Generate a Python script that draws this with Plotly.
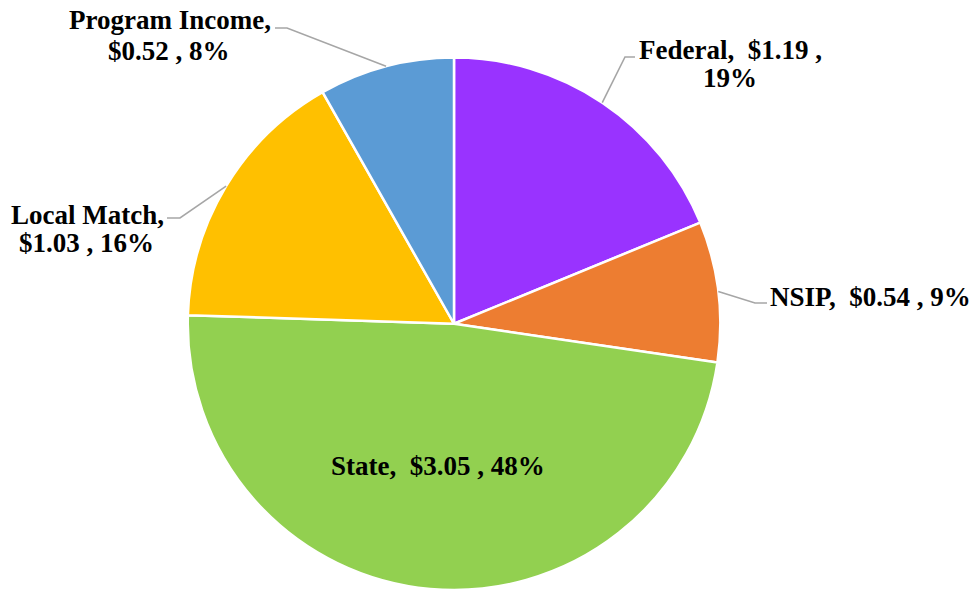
import math
import plotly.graph_objects as go

# ---- data ----
categories = ["Federal", "NSIP", "State", "Local Match", "Program Income"]
amounts = [1.19, 0.54, 3.05, 1.03, 0.52]
percents = [19, 9, 48, 16, 8]
colors = ["#9933FF", "#ED7D31", "#92D050", "#FFC000", "#5B9BD5"]

NB = "\u00a0"
# label text lines (as shown on the chart)
label_lines = {
    "Federal": ["Federal," + NB * 2 + "$1.19" + NB + ",", "19%"],
    "NSIP": ["NSIP," + NB * 2 + "$0.54" + NB + "," + NB + "9%"],
    "State": ["State," + NB * 2 + "$3.05" + NB + "," + NB + "48%"],
    "Local Match": ["Local Match,", "$1.03" + NB + "," + NB + "16%"],
    "Program Income": ["Program Income,", "$0.52" + NB + "," + NB + "8%"],
}

# ---- layout / style (pixels) ----
W, H = 975, 590
CX, CY, R = 454.0, 323.75, 266.25
FONT = "Liberation Serif, Times New Roman, serif"
FSIZE = 27

# label line centres (x, y of each line) in pixels
label_pos = {
    "Federal": [(730, 50), (730, 78)],
    "NSIP": [(870, 297)],
    "State": [(438, 466)],
    "Local Match": [(87, 215.5), (86, 243)],
    "Program Income": [(170, 20.5), (169, 50.5)],
}
leader_pts = {
    "Federal": [(625, 57), (635, 57)],
    "NSIP": [(755, 303), (767, 303)],
    "State": None,
    "Local Match": [(180, 218), (167, 218)],
    "Program Income": [(287, 28), (275, 28)],
}


def px(x):
    return x / W


def py(y):
    return 1 - y / H


fig = go.Figure(
    go.Pie(
        labels=categories,
        values=amounts,
        sort=False,
        direction="clockwise",
        rotation=0,
        marker=dict(colors=colors, line=dict(color="white", width=2.5)),
        textinfo="none",
        showlegend=False,
        domain=dict(x=[px(CX - R), px(CX + R)], y=[0, py(CY - R)]),
    )
)

total = sum(amounts)
cum = 0.0
shapes = []
annotations = []
for cat, val in zip(categories, amounts):
    mid = (cum + val / 2) / total * 2 * math.pi
    cum += val
    for line, (lx, ly) in zip(label_lines[cat], label_pos[cat]):
        annotations.append(
            dict(
                x=px(lx), y=py(ly), xref="paper", yref="paper",
                text="<b>" + line + "</b>", showarrow=False,
                xanchor="center", yanchor="middle", align="center",
                font=dict(family=FONT, size=FSIZE, color="black"),
            )
        )
    pts = leader_pts[cat]
    if pts:
        sx = CX + R * math.sin(mid)
        sy = CY - R * math.cos(mid)
        path = [(sx, sy)] + pts
        d = "M " + " L ".join(f"{px(x)},{py(y)}" for x, y in path)
        shapes.append(
            dict(type="path", path=d, xref="paper", yref="paper",
                 line=dict(color="#A6A6A6", width=1.6))
        )

fig.update_layout(
    width=W, height=H,
    margin=dict(l=0, r=0, t=0, b=0),
    paper_bgcolor="white", plot_bgcolor="white",
    shapes=shapes, annotations=annotations,
)

fig.write_html(
    "out.html",
    config={"displayModeBar": False},
    post_script="document.body.style.margin='0';",
)
